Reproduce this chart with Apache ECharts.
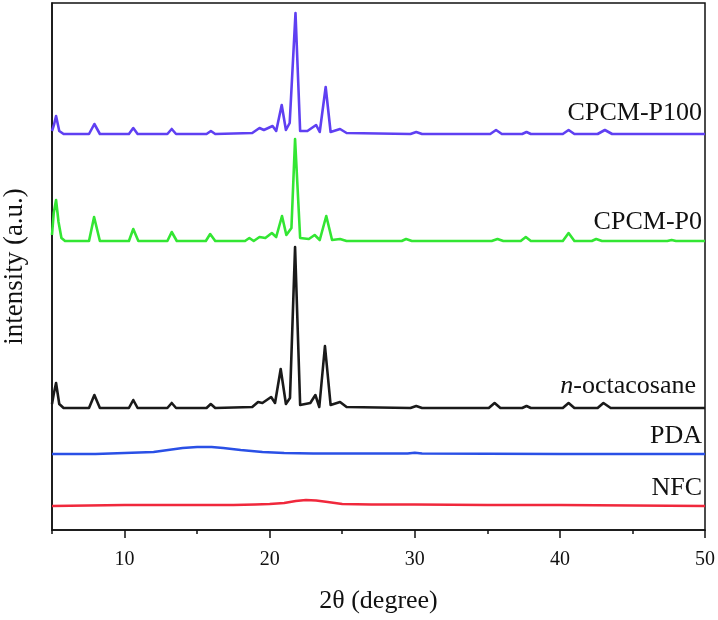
<!DOCTYPE html>
<html>
<head>
<meta charset="utf-8">
<script src="https://cdn.jsdelivr.net/npm/echarts@6/dist/echarts.min.js"></script>
<style>
html,body{margin:0;padding:0;background:#fff;}
#chart{width:718px;height:620px;}
</style>
</head>
<body>
<div id="chart"></div>
<script>
// [2θ (degree), intensity above the trace's own baseline (a.u.)]
const nfcData = [[5,0],[7.5,0.5],[10,1],[12.5,1],[15,1],[17.5,1],[19,1.5],[20,2],[21,3],[21.8,5],[22.5,6],[23.2,5.5],[24,4],[25,2],[27,1.5],[30,1.5],[35,1],[40,1],[45,0.5],[50,0]];
const pdaData = [[5,0],[8,0],[10,1],[11,1.5],[12,2],[13,4],[14,6],[15,7],[16,7],[16.8,6],[18,4],[19.5,2],[21,1],[23,0.5],[25,0.5],[29.5,0.5],[30,1.2],[30.5,0.5],[35,0.3],[40,0],[45,0],[50,0]];
const octacosaneData = [[5,4],[5.12,14],[5.28,25],[5.5,4],[5.8,0],[7.55,0],[7.92,13],[8.3,0],[10.3,0],[10.6,8],[10.9,0],[12.95,0],[13.25,5],[13.55,0],[15.65,0],[15.94,4],[16.25,0],[18.8,1],[19.2,6],[19.5,5],[20.1,11],[20.37,5],[20.76,39],[21.12,4],[21.4,10],[21.75,161],[22.1,3],[22.8,5],[23.15,13],[23.42,1],[23.81,62],[24.2,3],[24.85,6],[25.3,1],[29.7,0],[30.1,2],[30.5,0],[35.1,0],[35.5,5],[35.9,0],[37.4,0],[37.7,2],[38.0,0],[40.2,0],[40.6,5],[41.0,0],[42.6,0],[43.0,5],[43.5,0],[50,0]];
const p0Data = [[5,6],[5.12,28],[5.28,41],[5.45,19],[5.65,3],[5.9,0],[7.55,0],[7.9,24],[8.3,0],[10.3,0],[10.6,12],[10.95,0],[12.95,0],[13.25,9],[13.6,0],[15.6,0],[15.9,7],[16.25,0],[18.3,0],[18.6,3],[18.9,0],[19.3,4],[19.7,3],[20.15,8],[20.45,4],[20.85,25],[21.15,6],[21.5,13],[21.75,102],[22.1,3],[22.7,2],[23.1,6],[23.45,1],[23.9,25],[24.3,1],[24.85,2],[25.3,0],[29.1,0],[29.4,2],[29.8,0],[35.3,0],[35.7,2],[36.1,0],[37.3,0],[37.65,4],[38.0,0],[40.2,0],[40.6,8],[41.0,0],[42.2,0],[42.5,2],[42.9,0],[47.4,0],[47.7,1],[48.0,0],[50,0]];
const p100Data = [[5,3],[5.15,10],[5.28,18],[5.5,3],[5.8,0],[7.55,0],[7.92,10],[8.3,0],[10.3,0],[10.6,6],[10.9,0],[12.95,0],[13.25,5],[13.55,0],[15.65,0],[15.95,3],[16.25,0],[18.8,1],[19.3,6],[19.6,4],[20.2,8],[20.45,3],[20.83,29],[21.12,4],[21.38,11],[21.78,121],[22.1,3],[22.6,3],[23.2,9],[23.45,2],[23.86,47],[24.2,2],[24.85,5],[25.3,1],[29.7,0],[30.1,2],[30.5,0],[35.2,0],[35.6,4],[36.0,0],[37.4,0],[37.7,2],[38.0,0],[40.2,0],[40.6,4],[41.0,0],[42.6,0],[43.1,4],[43.6,0],[50,0]];

const seriesNames = ['NFC','PDA','n-octacosane','CPCM-P0','CPCM-P100'];
const seriesOffsets = [24, 76, 122, 289, 396];
const seriesColors = ['#f0283c','#2a50e6','#1a1a1a','#33e633','#5f40f2'];
const seriesData = [nfcData, pdaData, octacosaneData, p0Data, p100Data];
const xTicks = [10, 20, 30, 40, 50];

const serif = "'Liberation Serif','Times New Roman',serif";
const chart = echarts.init(document.getElementById('chart'));

const series = seriesData.map((d, i) => ({
  name: seriesNames[i],
  type: 'line',
  xAxisIndex: 0,
  yAxisIndex: 0,
  showSymbol: false,
  symbol: 'none',
  smooth: false,
  lineStyle: { color: seriesColors[i], width: 2.6, join: 'round' },
  itemStyle: { color: seriesColors[i] },
  data: d.map(p => [p[0], p[1] + seriesOffsets[i]]),
  z: 3 + i
}));

const labelPos = [
  { text: 'NFC', x: 702, y: 488 },
  { text: '{i|n}-octacosane', x: 696, y: 386 },
  { text: 'PDA', x: 702, y: 436 },
  { text: 'CPCM-P0', x: 702, y: 222 },
  { text: 'CPCM-P100', x: 702, y: 113 }
];

const option = {
  animation: false,
  backgroundColor: '#fff',
  grid: [
    { left: 52, right: 13, top: 3, bottom: 90, show: true, borderColor: '#111', borderWidth: 1.5, backgroundColor: 'transparent', containLabel: false, outerBoundsMode: 'none' },
    { left: 52 - 5 * (653 / 45), right: 13, top: 3, bottom: 90, containLabel: false, outerBoundsMode: 'none' }
  ],
  xAxis: [
    {
      gridIndex: 0, type: 'value', min: 5, max: 50, interval: 5,
      axisLine: { show: true, lineStyle: { color: '#111', width: 1.5 } },
      axisTick: { show: true, inside: false, length: 4, lineStyle: { color: '#111', width: 1.5 } },
      axisLabel: { show: false },
      splitLine: { show: false },
      name: '2θ (degree)', nameLocation: 'middle', nameGap: 58,
      nameTextStyle: { fontFamily: serif, fontSize: 26, color: '#111' }
    },
    {
      gridIndex: 1, type: 'value', min: 0, max: 50, interval: 10,
      axisLine: { show: false },
      axisTick: { show: true, inside: false, length: 8, lineStyle: { color: '#111', width: 1.5 } },
      axisLabel: {
        show: true, margin: 20, fontFamily: serif, fontSize: 20, color: '#111',
        formatter: v => (xTicks.indexOf(v) >= 0 ? String(v) : '')
      },
      splitLine: { show: false }
    }
  ],
  yAxis: [
    {
      gridIndex: 0, type: 'value', min: 0, max: 527,
      axisLine: { show: true, lineStyle: { color: '#111', width: 1.5 } },
      axisTick: { show: false }, axisLabel: { show: false }, splitLine: { show: false },
      name: 'intensity (a.u.)', nameLocation: 'middle', nameGap: 24, nameRotate: 90,
      nameTextStyle: { fontFamily: serif, fontSize: 27, color: '#111' }
    },
    { gridIndex: 1, type: 'value', min: 0, max: 527, show: false }
  ],
  series: series,
  graphic: labelPos.map(l => ({
    type: 'text', x: l.x, y: l.y, z: 10,
    style: {
      text: l.text, align: 'right', verticalAlign: 'middle',
      font: '26px ' + serif, fill: '#111',
      rich: { i: { fontFamily: serif, fontSize: 26, fontStyle: 'italic', fill: '#111' } }
    }
  }))
};
chart.setOption(option);
</script>
</body>
</html>
